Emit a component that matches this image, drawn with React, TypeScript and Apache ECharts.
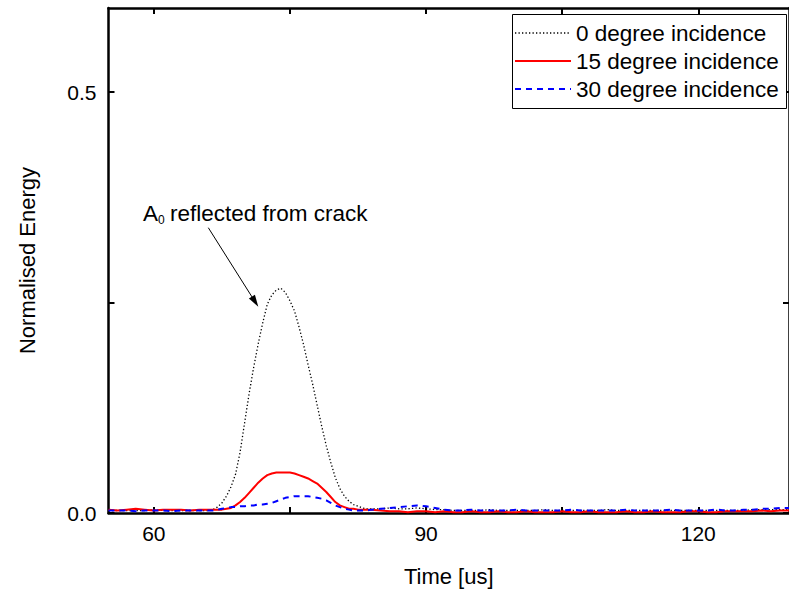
import React, { useEffect, useRef } from "react";
import * as echarts from "echarts";

const time = [
  55, 56, 57, 58, 59, 60, 61, 62, 63, 64, 65, 66,
  66.5, 67, 67.5, 68, 68.5, 69, 69.5, 70, 70.5, 71, 71.5, 72, 72.5, 73, 73.5, 74, 74.5, 75,
  75.5, 76, 76.5, 77, 77.5, 78, 78.5, 79, 79.5, 80, 80.5, 81, 81.5, 82, 82.5, 83, 83.5, 84,
  85, 86, 87, 88, 89, 90, 91, 92, 93, 94,
  95, 96, 97, 98, 99, 100, 101, 102, 103, 104,
  105, 106, 107, 108, 109, 110, 111, 112, 113, 114,
  115, 116, 117, 118, 119, 120, 121, 122, 123, 124,
  125, 126, 127, 128, 129, 130,
];

const deg0 = [
  0.003, 0.003, 0.003, 0.003, 0.003, 0.004, 0.003, 0.003, 0.003, 0.003, 0.003, 0.003,
  0.004, 0.007, 0.012, 0.020, 0.031, 0.046, 0.072, 0.107, 0.142, 0.173, 0.201, 0.226, 0.248, 0.259, 0.265, 0.267, 0.262, 0.252,
  0.240, 0.221, 0.200, 0.176, 0.153, 0.128, 0.103, 0.080, 0.060, 0.042, 0.029, 0.020, 0.014, 0.010, 0.008, 0.006, 0.005, 0.005,
  0.005, 0.006, 0.005, 0.005, 0.006, 0.005, 0.004, 0.004, 0.003, 0.003,
  0.003, 0.003, 0.004, 0.003, 0.003, 0.003, 0.003, 0.003, 0.004, 0.003,
  0.003, 0.003, 0.003, 0.003, 0.003, 0.004, 0.003, 0.003, 0.003, 0.003,
  0.003, 0.003, 0.003, 0.003, 0.003, 0.003, 0.003, 0.003, 0.003, 0.003,
  0.003, 0.004, 0.004, 0.004, 0.004, 0.004,
];

const deg15 = [
  0.004, 0.003, 0.004, 0.005, 0.004, 0.003, 0.004, 0.004, 0.004, 0.003, 0.004, 0.004,
  0.004, 0.004, 0.004, 0.005, 0.006, 0.009, 0.013, 0.018, 0.024, 0.030, 0.036, 0.041, 0.045, 0.047, 0.048, 0.048, 0.048, 0.048,
  0.047, 0.045, 0.043, 0.041, 0.038, 0.035, 0.030, 0.025, 0.019, 0.013, 0.009, 0.007, 0.005, 0.005, 0.004, 0.004, 0.004, 0.004,
  0.003, 0.002, 0.002, 0.001, 0.002, 0.002, 0.001, 0.002, 0.001, 0.001,
  0.002, 0.001, 0.001, 0.002, 0.001, 0.001, 0.002, 0.001, 0.001, 0.001,
  0.002, 0.001, 0.001, 0.002, 0.001, 0.001, 0.001, 0.002, 0.001, 0.001,
  0.002, 0.001, 0.001, 0.001, 0.002, 0.002, 0.001, 0.001, 0.002, 0.002,
  0.002, 0.002, 0.003, 0.002, 0.003, 0.003,
];

const deg30 = [
  0.003, 0.003, 0.003, 0.002, 0.003, 0.003, 0.003, 0.002, 0.003, 0.003, 0.003, 0.003,
  0.003, 0.004, 0.005, 0.006, 0.007, 0.007, 0.008, 0.008, 0.009, 0.009, 0.010, 0.010, 0.011, 0.012, 0.014, 0.016, 0.018, 0.019,
  0.020, 0.020, 0.020, 0.020, 0.019, 0.018, 0.017, 0.015, 0.012, 0.009, 0.007, 0.005, 0.004, 0.003, 0.003, 0.003, 0.003, 0.004,
  0.005, 0.006, 0.007, 0.008, 0.009, 0.008, 0.006, 0.004, 0.003, 0.003,
  0.004, 0.003, 0.003, 0.003, 0.003, 0.004, 0.003, 0.003, 0.003, 0.003,
  0.003, 0.004, 0.003, 0.003, 0.003, 0.003, 0.003, 0.004, 0.003, 0.003,
  0.003, 0.003, 0.004, 0.003, 0.003, 0.003, 0.003, 0.004, 0.003, 0.003,
  0.004, 0.004, 0.005, 0.005, 0.006, 0.006,
];

const seriesNames = ["0 degree incidence", "15 degree incidence", "30 degree incidence"];
const xTicks = [60, 75, 90, 105, 120];
const xLabels = [60, 90, 120];
const yTicks = [0, 0.25, 0.5];
const yLabels = [0, 0.5];

const FONT = "'Liberation Sans', Arial, sans-serif";

export default function App() {
  const ref = useRef<HTMLDivElement>(null);

  useEffect(() => {
    document.body.style.margin = "0";
    if (!ref.current) return;
    const chart = echarts.init(ref.current, null, { renderer: "svg" });

    const pairs = (vals: number[]) => time.map((t, i) => [t, vals[i]]);

    const axisLineStyle = { color: "#000", width: 2.5 };
    const tickStyle = { color: "#000", width: 2 };
    const labelStyle = { fontSize: 21, color: "#000", fontFamily: FONT };

    const legendRows = [
      { y: 33, color: "#000", width: 1.3, dash: [1.3, 2.2] },
      { y: 61, color: "#ff0000", width: 2, dash: null },
      { y: 89, color: "#0000ff", width: 2, dash: [6, 5] },
    ];

    const graphic: any[] = [
      {
        type: "rect",
        z: 100,
        shape: { x: 512.5, y: 14.5, width: 274, height: 94 },
        style: { fill: "#fff", stroke: "#000", lineWidth: 1 },
      },
    ];
    legendRows.forEach((r, i) => {
      graphic.push({
        type: "line",
        z: 101,
        shape: { x1: 515, y1: r.y, x2: 571, y2: r.y },
        style: { stroke: r.color, lineWidth: r.width, lineDash: r.dash || undefined },
      });
      graphic.push({
        type: "text",
        z: 101,
        x: 576,
        y: r.y,
        style: {
          text: seriesNames[i],
          font: `22.5px ${FONT}`,
          fill: "#000",
          verticalAlign: "middle",
          align: "left",
        },
      });
    });
    // Annotation
    graphic.push(
      {
        type: "text",
        z: 101,
        x: 143,
        y: 213,
        style: { text: "A", font: `22.5px ${FONT}`, fill: "#000", verticalAlign: "middle" },
      },
      {
        type: "text",
        z: 101,
        x: 158,
        y: 220,
        style: { text: "0", font: `12px ${FONT}`, fill: "#000", verticalAlign: "middle" },
      },
      {
        type: "text",
        z: 101,
        x: 170,
        y: 213,
        style: { text: "reflected from crack", font: `22.5px ${FONT}`, fill: "#000", verticalAlign: "middle" },
      },
      {
        type: "line",
        z: 101,
        shape: { x1: 208.3, y1: 227.7, x2: 253, y2: 298.5 },
        style: { stroke: "#000", lineWidth: 1 },
      },
      {
        type: "polygon",
        z: 101,
        shape: {
          points: [
            [258.3, 306.7],
            [248.9, 298.5],
            [254.9, 294.7],
          ],
        },
        style: { fill: "#000" },
      }
    );

    const option: any = {
      animation: false,
      backgroundColor: "#fff",
      grid: { left: 108.5, right: -5, top: 8, bottom: 78.5, containLabel: false },
      xAxis: [
        {
          type: "value",
          position: "bottom",
          min: 55,
          max: 130,
          name: "Time [us]",
          nameLocation: "middle",
          nameGap: 52,
          nameTextStyle: { fontSize: 22, color: "#000", fontFamily: FONT },
          axisLine: { show: true, onZero: false, lineStyle: axisLineStyle },
          axisTick: { show: true, inside: true, length: 6, customValues: xTicks, lineStyle: tickStyle },
          axisLabel: { ...labelStyle, margin: 10, customValues: xLabels },
          splitLine: { show: false },
        },
        {
          type: "value",
          position: "top",
          min: 55,
          max: 130,
          axisLine: { show: true, onZero: false, lineStyle: axisLineStyle },
          axisTick: { show: true, inside: true, length: 6, customValues: xTicks, lineStyle: tickStyle },
          axisLabel: { show: false },
          splitLine: { show: false },
        },
      ],
      yAxis: [
        {
          type: "value",
          position: "left",
          min: 0,
          max: 0.6,
          name: "Normalised Energy",
          nameLocation: "middle",
          nameGap: 70,
          nameTextStyle: { fontSize: 22, color: "#000", fontFamily: FONT },
          axisLine: { show: true, onZero: false, lineStyle: axisLineStyle },
          axisTick: { show: true, inside: true, length: 6, customValues: yTicks, lineStyle: tickStyle },
          axisLabel: {
            ...labelStyle,
            margin: 12,
            customValues: yLabels,
            formatter: (v: number) => v.toFixed(1),
          },
          splitLine: { show: false },
        },
        {
          type: "value",
          position: "right",
          min: 0,
          max: 0.6,
          axisLine: { show: true, onZero: false, lineStyle: axisLineStyle },
          axisTick: { show: true, inside: true, length: 6, customValues: yTicks, lineStyle: tickStyle },
          axisLabel: { show: false },
          splitLine: { show: false },
        },
      ],
      series: [
        {
          name: seriesNames[0],
          type: "line",
          data: pairs(deg0),
          showSymbol: false,
          symbol: "none",
          lineStyle: { color: "#000", width: 1.3, type: [1.3, 2.2] },
          z: 2,
        },
        {
          name: seriesNames[1],
          type: "line",
          data: pairs(deg15),
          showSymbol: false,
          symbol: "none",
          lineStyle: { color: "#ff0000", width: 2, type: "solid" },
          z: 3,
        },
        {
          name: seriesNames[2],
          type: "line",
          data: pairs(deg30),
          showSymbol: false,
          symbol: "none",
          lineStyle: { color: "#0000ff", width: 2, type: [6, 5] },
          z: 4,
        },
      ],
      graphic,
    };

    chart.setOption(option);
    return () => chart.dispose();
  }, []);

  return (
    <div
      ref={ref}
      style={{ position: "absolute", left: 0, top: 0, width: 789, height: 592, background: "#fff" }}
    />
  );
}
